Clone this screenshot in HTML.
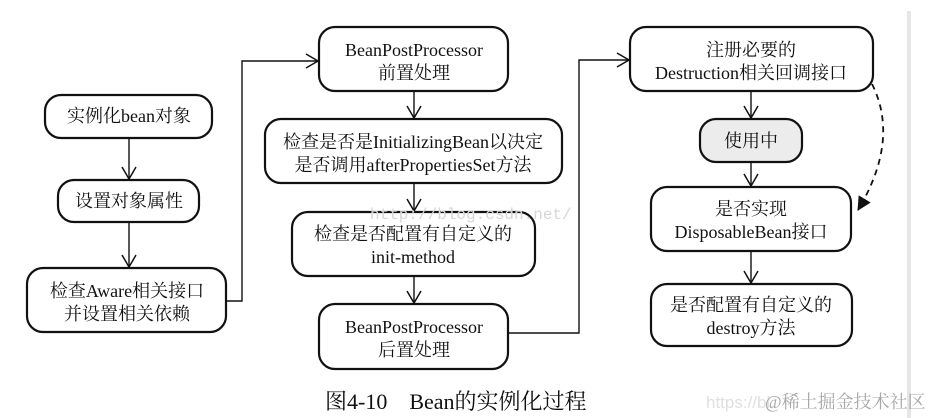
<!DOCTYPE html>
<html><head><meta charset="utf-8"><style>
html,body{margin:0;padding:0;background:#fff;}
svg{display:block;}
text{font-family:"Liberation Serif","Noto Serif CJK SC",serif;font-size:18px;fill:#111;}
</style></head><body>
<svg width="931" height="418" viewBox="0 0 931 418" xmlns="http://www.w3.org/2000/svg">
<defs>
<marker id="o" markerWidth="16" markerHeight="16" refX="13" refY="8" orient="auto" markerUnits="userSpaceOnUse">
<path d="M1,1 L13,8 L1,15" fill="none" stroke="#111" stroke-width="1.5"/>
</marker>
<marker id="f" markerWidth="16" markerHeight="14" refX="13" refY="7" orient="auto" markerUnits="userSpaceOnUse">
<path d="M0,0 L14,7 L0,14 z" fill="#111"/>
</marker>
</defs>
<rect x="907" y="11" width="4" height="407" fill="#e6e6e6"/>
<g fill="#fff" stroke="#111" stroke-width="2.2">
<rect x="45" y="95" width="167" height="43" rx="16"/>
<rect x="58" y="180" width="141" height="42" rx="16"/>
<rect x="27" y="268" width="199" height="64" rx="16"/>
<rect x="319" y="27" width="189" height="64" rx="16"/>
<rect x="265" y="119" width="297" height="64" rx="16"/>
<rect x="292" y="212" width="243" height="64" rx="16"/>
<rect x="319" y="304" width="189" height="65" rx="16"/>
<rect x="630" y="27" width="243" height="64" rx="16"/>
<rect x="700" y="119" width="102" height="43" rx="16" fill="#ececec"/>
<rect x="651" y="187" width="200" height="64" rx="16"/>
<rect x="651" y="284" width="201" height="62" rx="16"/>
</g>
<g stroke="#111" stroke-width="1.4" fill="none">
<line x1="129" y1="138" x2="129" y2="179" marker-end="url(#o)"/>
<line x1="129" y1="222" x2="129" y2="267" marker-end="url(#o)"/>
<polyline points="226,301 242,301 242,61 318,61" marker-end="url(#o)"/>
<line x1="414" y1="91" x2="414" y2="118" marker-end="url(#o)"/>
<line x1="414" y1="183" x2="414" y2="211" marker-end="url(#o)"/>
<line x1="414" y1="276" x2="414" y2="303" marker-end="url(#o)"/>
<polyline points="508,333 579,333 579,60 629,60" marker-end="url(#o)"/>
<line x1="751" y1="91" x2="751" y2="118" marker-end="url(#o)"/>
<line x1="751" y1="162" x2="751" y2="186" marker-end="url(#o)"/>
<line x1="751" y1="251" x2="751" y2="283" marker-end="url(#o)"/>
<path d="M872,84 Q900,140 858,210" stroke-dasharray="6,5" stroke-width="1.8" marker-end="url(#f)"/>
</g>
<g text-anchor="middle">
<text x="129" y="122">实例化bean对象</text>
<text x="129" y="207">设置对象属性</text>
<text x="127" y="297">检查Aware相关接口</text>
<text x="127" y="320">并设置相关依赖</text>
<text x="414" y="56">BeanPostProcessor</text>
<text x="414" y="79">前置处理</text>
<text x="413" y="148">检查是否是InitializingBean以决定</text>
<text x="413" y="171">是否调用afterPropertiesSet方法</text>
<text x="413" y="240">检查是否配置有自定义的</text>
<text x="413" y="263">init-method</text>
<text x="414" y="333">BeanPostProcessor</text>
<text x="414" y="356">后置处理</text>
<text x="751" y="56">注册必要的</text>
<text x="751" y="79">Destruction相关回调接口</text>
<text x="751" y="147">使用中</text>
<text x="751" y="215">是否实现</text>
<text x="751" y="238">DisposableBean接口</text>
<text x="751" y="311">是否配置有自定义的</text>
<text x="751" y="334">destroy方法</text>
</g>
<text x="370" y="219" style="font-family:'Liberation Mono',monospace;font-size:16px;fill:#d6d6d6">http://blog.csdn.net/</text>
<text x="325" y="409" style="font-size:22px">图4-10　Bean的实例化过程</text>
<text x="706" y="408" style="font-family:'Liberation Sans','Noto Sans CJK SC',sans-serif;font-size:17px;fill:#e0e0e0">https://bl</text>
<text x="765" y="408" style="font-size:18px;fill:#a8a8a8">@稀土掘金技术社区</text>
</svg>
</body></html>
